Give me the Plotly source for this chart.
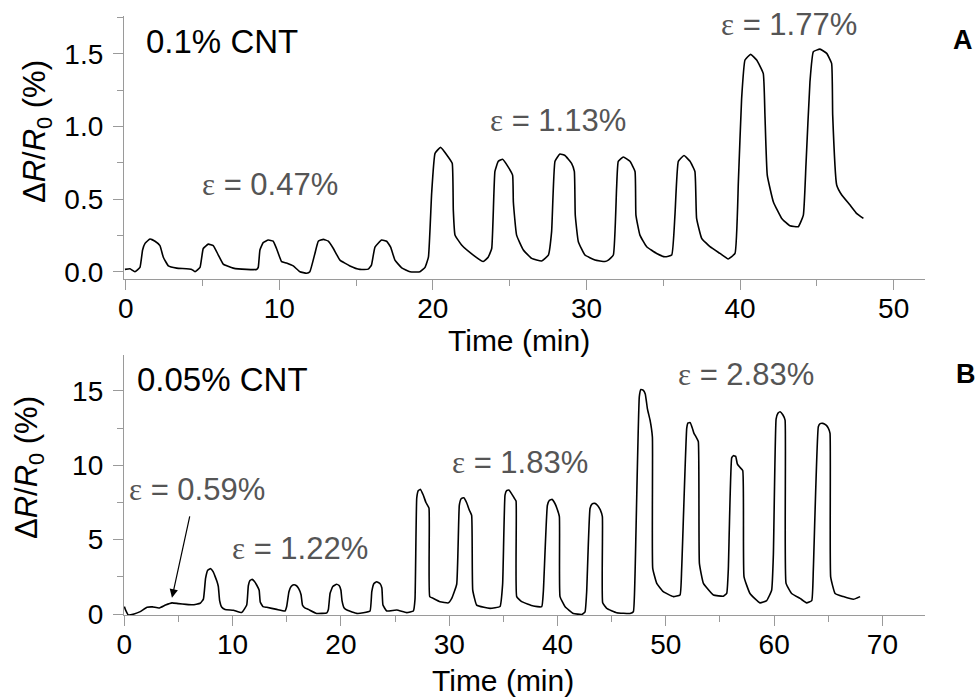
import plotly.graph_objects as go

# Panel A: 0.1% CNT  (time in min, response dR/R0 in %)
time_a = [-0.05, 0.28, 0.6, 0.93, 1.1, 1.26, 1.58, 1.91, 2.23, 2.45, 2.78, 3.32, 4.3, 4.51,
          4.84, 5.05, 5.38, 5.7, 6.03, 6.35, 7.0, 7.87, 8.52, 8.63,
          8.74, 8.95, 9.28, 9.6, 9.82, 10.15, 10.47, 10.91, 11.34, 11.78, 11.99,
          12.32, 12.54, 12.87, 13.19, 13.52, 13.95, 14.6, 15.25, 15.79, 16.0,
          16.23, 16.66, 16.99, 17.25, 17.53, 17.97, 18.51, 19.16, 19.49, 19.71,
          19.92, 20.14, 20.5, 21.0, 21.26, 21.33, 21.44, 21.87, 22.63, 23.28, 23.6,
          23.83, 24.04, 24.26, 24.54, 24.91, 25.19, 25.24, 25.45, 25.89, 26.43, 27.08, 27.52,
          27.73, 27.95, 28.27, 28.6, 29.03, 29.21, 29.27, 29.47, 29.9, 30.55, 31.2, 31.42, 31.75,
          31.96, 32.07, 32.4, 32.83, 33.16, 33.22, 33.48, 33.92, 34.57, 35.11, 35.55,
          35.76, 35.98, 36.35, 36.74, 37.06, 37.17, 37.5, 38.04, 38.69, 39.23, 39.67,
          39.89, 40.1, 40.32, 40.69, 41.08, 41.51, 41.62, 41.77, 42.17, 42.71, 43.25, 43.79, 44.12,
          44.29, 44.55, 44.77, 45.2, 45.64, 45.96, 46.03, 46.29, 46.62, 47.16, 47.6, 48.03]
resp_a = [0.016, 0.02, 0.0, 0.03, 0.15, 0.195, 0.225, 0.21, 0.18, 0.10, 0.04, 0.025, 0.016, 0.0,
          0.03, 0.16, 0.19, 0.18, 0.115, 0.053, 0.025, 0.016, 0.016, 0.03,
          0.15, 0.20, 0.218, 0.21, 0.16, 0.07, 0.06, 0.04, 0.0, -0.01, 0.0,
          0.126, 0.21, 0.223, 0.21, 0.16, 0.08, 0.04, 0.016, 0.018, 0.045,
          0.17, 0.218, 0.21, 0.17, 0.08, 0.027, 0.0, 0.0, 0.03, 0.10,
          0.54, 0.815, 0.856, 0.79, 0.746, 0.425, 0.253, 0.184, 0.115, 0.07, 0.10,
          0.16, 0.69, 0.76, 0.774, 0.72, 0.665, 0.48, 0.252, 0.15, 0.092, 0.074, 0.115,
          0.276, 0.76, 0.81, 0.80, 0.746, 0.69, 0.39, 0.207, 0.115, 0.081, 0.07, 0.08, 0.115,
          0.574, 0.76, 0.79, 0.76, 0.69, 0.39, 0.252, 0.172, 0.126, 0.103, 0.115,
          0.39, 0.76, 0.80, 0.76, 0.69, 0.367, 0.23, 0.172, 0.126, 0.088, 0.126,
          0.62, 1.19, 1.457, 1.496, 1.457, 1.365, 1.078, 0.665, 0.48, 0.367, 0.316, 0.31, 0.39,
          0.734, 1.307, 1.514, 1.532, 1.503, 1.434, 1.078, 0.597, 0.528, 0.459, 0.40, 0.367]

# Panel B: 0.05% CNT
time_b = [0.0, 0.1, 0.37, 0.9, 1.47, 2.1, 2.6, 3.2, 3.8, 4.4, 5.0, 5.7, 6.3, 7.0,
          7.3, 7.5, 7.7, 7.98, 8.2, 8.37, 8.55, 8.68, 8.8, 9.0, 9.3, 10.07, 10.84,
          11.3, 11.45, 11.6, 11.8, 12.0, 12.22, 12.45, 12.55, 12.8, 13.15, 14.07, 14.84,
          14.99, 15.2, 15.4, 15.65, 15.9, 16.1, 16.32, 16.45, 16.7, 16.99, 17.76, 18.7,
          18.84, 19.0, 19.25, 19.6, 19.85, 20.0, 20.1, 20.3, 20.6, 21.46, 22.07,
          22.69, 22.85, 23.05, 23.3, 23.6, 23.78, 23.88, 24.23, 25.15, 26.07, 26.69,
          26.84, 27.0, 27.15, 27.35, 27.6, 27.85, 28.13, 28.2, 28.53, 29.15, 29.92, 30.23,
          30.69, 30.93, 31.1, 31.35, 31.6, 31.85, 32.07, 32.17, 32.53, 33.2, 33.77, 34.69,
          34.93, 35.15, 35.3, 35.5, 35.75, 36.0, 36.17, 36.23, 36.69, 37.77, 38.54,
          38.69, 39.06, 39.25, 39.5, 39.75, 39.95, 40.17, 40.23, 40.7, 41.46, 42.23,
          42.54, 42.69, 43.0, 43.2, 43.45, 43.7, 43.95, 44.14, 44.17, 44.54, 45.46, 46.69,
          47.0, 47.15, 47.55, 47.7, 47.9, 48.1, 48.3, 48.54, 48.76, 48.79, 49.16, 49.77, 50.69, 51.31,
          51.46, 51.93, 52.05, 52.25, 52.45, 52.6, 52.8, 53.0, 53.1, 53.47, 54.39, 55.31, 55.62,
          55.77, 56.08, 56.24, 56.45, 56.6, 56.8, 57.1, 57.22, 57.77, 58.69, 59.31, 59.77,
          59.93, 60.18, 60.35, 60.55, 60.8, 61.01, 61.1, 61.62, 62.39, 63.0, 63.47,
          63.62, 64.08, 64.25, 64.5, 64.8, 65.0, 65.16, 65.22, 65.63, 66.39, 67.32, 67.94]
resp_b = [0.5, 0.3, -0.07, 0.0, 0.16, 0.45, 0.48, 0.4, 0.6, 0.75, 0.7, 0.65, 0.62, 0.72,
          1.0, 2.4, 2.95, 3.05, 2.85, 2.55, 2.2, 1.85, 0.9, 0.45, 0.3, 0.25, 0.1,
          0.6, 1.9, 2.25, 2.33, 2.2, 1.95, 1.6, 0.8, 0.5, 0.45, 0.31, 0.2,
          0.5, 1.5, 1.85, 1.97, 1.9, 1.7, 1.3, 0.6, 0.4, 0.31, 0.04, 0.08,
          0.3, 1.4, 1.85, 2.0, 1.9, 1.6, 0.9, 0.4, 0.25, 0.04, 0.08,
          0.2, 1.5, 2.05, 2.17, 2.05, 1.75, 0.6, 0.2, 0.27, 0.09, 0.2,
          1.0, 7.8, 8.3, 8.38, 8.0, 7.5, 7.12, 1.17, 1.05, 0.83, 0.75, 1.05,
          2.0, 7.3, 7.75, 7.82, 7.5, 7.0, 6.63, 1.61, 0.6, 0.45, 0.38, 0.5,
          2.0, 8.0, 8.3, 8.34, 8.1, 7.8, 7.6, 1.17, 0.83, 0.54, 0.49,
          1.5, 7.3, 7.65, 7.71, 7.45, 7.1, 6.55, 1.17, 0.49, 0.04, -0.03,
          0.15, 1.5, 7.1, 7.4, 7.44, 7.3, 7.0, 6.55, 0.75, 0.38, 0.09, 0.04,
          0.15, 2.5, 14.6, 15.1, 15.05, 14.8, 13.8, 13.05, 11.9, 3.07, 2.06, 1.5, 1.17, 1.28,
          3.0, 12.5, 12.85, 12.87, 12.5, 12.15, 11.9, 11.6, 3.4, 2.06, 1.28, 1.2, 1.38,
          3.0, 10.5, 10.65, 10.6, 10.1, 9.9, 9.65, 2.5, 1.38, 0.75, 0.9, 1.6,
          4.0, 13.1, 13.5, 13.6, 13.4, 13.04, 2.06, 1.38, 1.05, 0.75, 0.9,
          3.0, 12.6, 12.8, 12.82, 12.7, 12.5, 12.15, 2.5, 1.38, 1.17, 0.99, 1.17]

x_ticks_a = [0, 10, 20, 30, 40, 50]
y_ticks_a = [0.0, 0.5, 1.0, 1.5]
x_ticks_b = [0, 10, 20, 30, 40, 50, 60, 70]
y_ticks_b = [0, 5, 10, 15]

FONT = "Liberation Sans, Arial, Helvetica, sans-serif"
W, H = 980, 700
AX = "#9a9a9a"
GRAY_TXT = "#555555"

fig = go.Figure()
fig.add_trace(go.Scatter(x=time_a, y=resp_a, mode="lines",
                         line=dict(color="black", width=1.6, shape="spline", smoothing=0.35),
                         xaxis="x", yaxis="y", showlegend=False, hoverinfo="skip"))
fig.add_trace(go.Scatter(x=time_b, y=resp_b, mode="lines",
                         line=dict(color="black", width=1.6, shape="spline", smoothing=0.35),
                         xaxis="x2", yaxis="y2", showlegend=False, hoverinfo="skip"))

def px(x):
    return x / W

def py(y):
    return 1 - y / H

common = dict(showline=True, linecolor=AX, linewidth=1.3, ticks="outside", ticklen=10, tickwidth=1.3,
              tickcolor=AX, showgrid=False, zeroline=False, automargin=False,
              tickfont=dict(family=FONT, size=28, color="black"))
minor_style = dict(ticks="outside", ticklen=6, tickcolor=AX, tickwidth=1.3)

fig.update_layout(
    width=W, height=H, margin=dict(l=0, r=0, t=0, b=0, pad=0, autoexpand=False),
    paper_bgcolor="white", plot_bgcolor="white", showlegend=False,
    font=dict(family=FONT, color="black"),
    xaxis=dict(domain=[px(124), px(925)], anchor="y", range=[-0.11, 52.04], tickvals=x_ticks_a,
               minor=dict(dtick=5, tick0=0, **minor_style), ticklabelstandoff=-6, **common),
    yaxis=dict(domain=[py(279), py(16)], anchor="x", range=[-0.05, 1.76], tickvals=y_ticks_a,
               ticktext=[f"{v:.1f}" for v in y_ticks_a],
               minor=dict(dtick=0.25, tick0=0, **minor_style), ticklabelstandoff=4, **common),
    xaxis2=dict(domain=[px(124), px(925)], anchor="y2", range=[-0.03, 73.93], tickvals=x_ticks_b,
                minor=dict(dtick=5, tick0=0, **minor_style), ticklabelstandoff=-6, **common),
    yaxis2=dict(domain=[py(615), py(355)], anchor="x2", range=[-0.067, 17.42], tickvals=y_ticks_b,
                minor=dict(dtick=2.5, tick0=0, **minor_style), ticklabelstandoff=4, **common),
)

def txt(x, y, s, size, color="black", angle=0, bold=False):
    fig.add_annotation(x=px(x), y=py(y), xref="paper", yref="paper", text=s, showarrow=False,
                       xanchor="center", yanchor="middle", textangle=angle,
                       font=dict(family=FONT, size=size, color=color, weight="bold" if bold else "normal"))

ytitle = "Δ<i>R</i>/<i>R</i><sub>0</sub> (%)"
txt(37, 132, ytitle, 31, angle=-90)
txt(29, 468, ytitle, 31, angle=-90)
txt(519, 341, "Time (min)", 30)
txt(503, 680, "Time (min)", 30)

txt(222, 41, "0.1% CNT", 33)
txt(222, 380, "0.05% CNT", 33)
txt(963, 40, "A", 27, bold=True)
txt(966, 374, "B", 27, bold=True)

EPS = '<span style="font-family:Liberation Serif">ε</span>'
txt(270, 184, EPS + " = 0.47%", 31, GRAY_TXT)
txt(558, 120, EPS + " = 1.13%", 31, GRAY_TXT)
txt(789, 25, EPS + " = 1.77%", 31, GRAY_TXT)
txt(197, 490, EPS + " = 0.59%", 31, GRAY_TXT)
txt(300, 548, EPS + " = 1.22%", 31, GRAY_TXT)
txt(520, 462, EPS + " = 1.83%", 31, GRAY_TXT)
txt(746, 374, EPS + " = 2.83%", 31, GRAY_TXT)

# arrow pointing at the 0.59% region (head and tail in panel-B data units)
fig.add_annotation(x=4.4, y=1.1, xref="x2", yref="y2", ax=6.07, ay=6.66, axref="x2", ayref="y2",
                   text="", showarrow=True, arrowhead=2, arrowsize=1.4, arrowwidth=1.2, arrowcolor="black",
                   standoff=0)

# remove the default page margin so the 980x700 figure fills the window exactly
fig.write_html("out.html", config={"displayModeBar": False},
               post_script="document.body.style.margin='0';document.body.style.overflow='hidden';")
